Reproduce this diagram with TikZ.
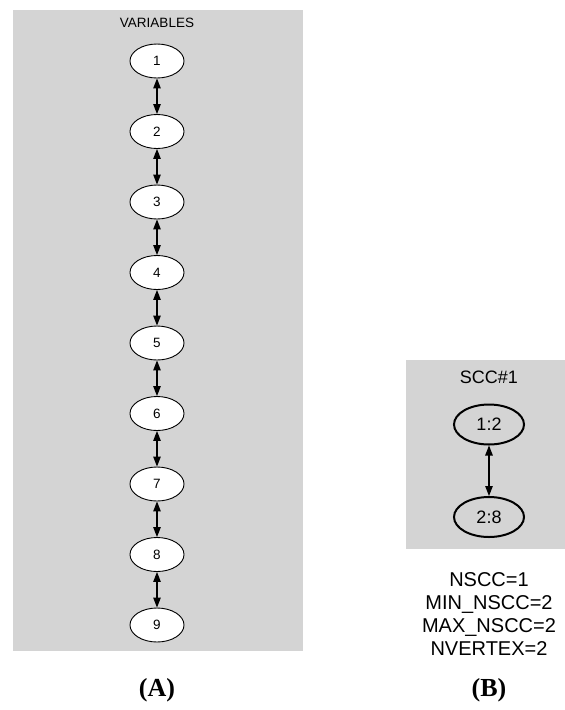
\documentclass[tikz,border=0pt]{standalone}
\usepackage{fontspec}
\setmainfont{Liberation Sans}
\newfontfamily\capfont{Liberation Serif}
\usetikzlibrary{shapes.geometric,arrows.meta}
\tikzset{
    varnode/.style={ellipse, draw, fill=white, line width=0.9pt,
        minimum width=54pt, minimum height=34pt, inner sep=0pt,
        font=\fontsize{13.5}{15}\selectfont},
    sccnode/.style={ellipse, draw, line width=2pt,
        minimum width=70pt, minimum height=40pt, inner sep=0pt,
        font=\fontsize{18}{20}\selectfont},
    link/.style={{Triangle[length=10pt,width=7.5pt]}-{Triangle[length=10pt,width=7.5pt]}, line width=1.1pt},
    panel/.style={fill=black!17, draw=none}
}
\begin{document}
\begin{tikzpicture}[x=1pt, y=-1pt]
    \useasboundingbox (0,0) rectangle (565,710);
    % left panel
    \fill[panel] (12.7,9.5) rectangle (303,650.7);
    \node[font=\fontsize{13.5}{16}\selectfont] (vartitle) at (157,22.7) {VARIABLES};
    \foreach \i in {1,...,9} {
        \node[varnode] (v\i) at (157, {61+70.5*(\i-1)}) {\i};
    }
    \foreach \i [evaluate=\i as \j using int(\i+1)] in {1,...,8} {
        \draw[link] (v\i) -- (v\j);
    }
    % right panel
    \fill[panel] (405.5,359.5) rectangle (565,549);
    \node[font=\fontsize{18}{20}\selectfont] (scctitle) at (489,377) {SCC\#1};
    \node[sccnode] (s1) at (489,424.5) {1:2};
    \node[sccnode] (s2) at (489,517) {2:8};
    \draw[link] (s1) -- (s2);
    \node[font=\fontsize{20}{23}\selectfont, align=center] (stats) at (489,614)
        {NSCC=1\\MIN\_NSCC=2\\MAX\_NSCC=2\\NVERTEX=2};
    % captions
    \node[font=\capfont\bfseries\fontsize{26}{30}\selectfont] (capA) at (157,690) {(A)};
    \node[font=\capfont\bfseries\fontsize{26}{30}\selectfont] (capB) at (489,690) {(B)};
\end{tikzpicture}
\end{document}
